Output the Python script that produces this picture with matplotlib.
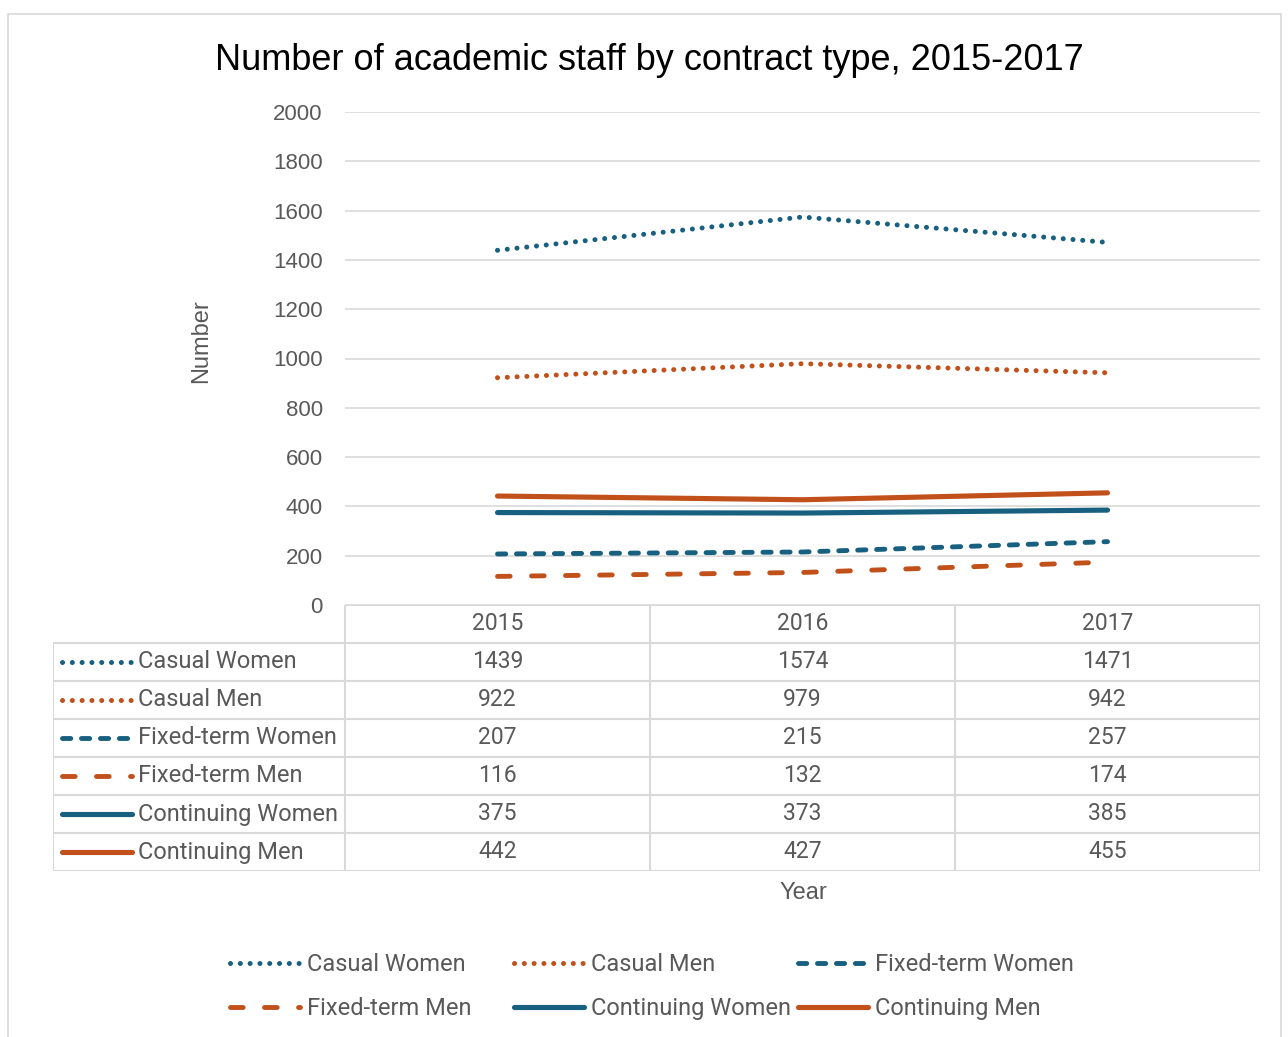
import matplotlib
matplotlib.use("Agg")
import matplotlib.pyplot as plt
from matplotlib.patches import Rectangle

# academic staff counts by contract type
years = ["2015", "2016", "2017"]
series_names = ["Casual Women", "Casual Men", "Fixed-term Women",
                "Fixed-term Men", "Continuing Women", "Continuing Men"]
casual_women = [1439, 1574, 1471]
casual_men = [922, 979, 942]
fixed_women = [207, 215, 257]
fixed_men = [116, 132, 174]
cont_women = [375, 373, 385]
cont_men = [442, 427, 455]
series_values = [casual_women, casual_men, fixed_women,
                 fixed_men, cont_women, cont_men]
y_ticks = [0, 200, 400, 600, 800, 1000, 1200, 1400, 1600, 1800, 2000]

BLUE = "#17607F"
ORANGE = "#C1501A"
GRID = "#D9D9D9"
TXT = "#595959"

styles = [
    dict(color=BLUE, lw=3.6, dashes=(0.01, 1.95), dash_capstyle="round"),
    dict(color=ORANGE, lw=3.6, dashes=(0.01, 1.95), dash_capstyle="round"),
    dict(color=BLUE, lw=3.5, dashes=(1.7, 2.2), dash_capstyle="round"),
    dict(color=ORANGE, lw=3.5, dashes=(2.6, 4.4), dash_capstyle="round"),
    dict(color=BLUE, lw=3.7, solid_capstyle="round"),
    dict(color=ORANGE, lw=3.7, solid_capstyle="round"),
]

W, H = 1288, 1037
fig = plt.figure(figsize=(W / 100, H / 100), dpi=100)
fig.patch.set_facecolor("white")

# chart border
fig.add_artist(Rectangle((8 / W, -0.01), (1281 - 8) / W, (H - 14) / H + 0.01,
                         transform=fig.transFigure, fill=False,
                         edgecolor=GRID, lw=1.2))

def fx(px):
    return px / W

def fy(py):
    return (H - py) / H

x = list(range(len(years)))

ax = fig.add_axes([fx(345), fy(605), fx(1260) - fx(345), fy(112) - fy(605)])
ax.set_xlim(-0.5, 2.5)
ax.set_ylim(0, 2000)
ax.set_yticks(y_ticks)
ax.set_yticklabels([str(t) for t in y_ticks], fontsize=16,
                   color=TXT, family="Liberation Sans")
ax.tick_params(axis="y", length=0, pad=16)
ax.set_xticks([])
for s in ax.spines.values():
    s.set_visible(False)
ax.grid(axis="y", color=GRID, lw=1.2)
ax.set_axisbelow(True)

handles = []
for name, vals, st in zip(series_names, series_values, styles):
    ln, = ax.plot(x, vals, label=name, **st)
    handles.append(ln)

ax.set_ylabel("Number", fontsize=17, color=TXT, family="Liberation Sans")
ax.yaxis.set_label_coords(-0.145, 0.535)

fig.text(fx(649), fy(60), "Number of academic staff by contract type, 2015-2017",
         ha="center", va="center", fontsize=26, family="Liberation Sans",
         color="black")

# data table under the plot
lab_w = 292 / 305.3
tab = fig.add_axes([fx(53), fy(871), fx(1260) - fx(53), fy(605) - fy(871)])
tab.set_xlim(-0.5 - lab_w, 2.5)
tab.set_ylim(7, 0)
tab.axis("off")
left = -0.5 - lab_w
tab.hlines(0, -0.5, 2.5, color=GRID, lw=1.5)
tab.hlines(range(1, 8), left, 2.5, color=GRID, lw=1.5)
tab.vlines(left, 1, 7, color=GRID, lw=1.5)
tab.vlines([-0.5, 0.5, 1.5, 2.5], 0, 7, color=GRID, lw=1.5)
for i, yr in enumerate(years):
    tab.text(i, 0.5, yr, ha="center", va="center", fontsize=16.5,
             color=TXT, family="Roboto")
px_unit = 1 / 305.3
for r, (name, vals, st) in enumerate(zip(series_names, series_values, styles)):
    yc = r + 1.5
    k0 = left + 9 * px_unit
    tab.plot([k0, k0 + 70 * px_unit], [yc, yc], **st)
    tab.text(k0 + 76 * px_unit, yc, name, ha="left", va="center",
             fontsize=17, color=TXT, family="Roboto")
    for i, v in enumerate(vals):
        tab.text(i, yc, str(v), ha="center", va="center", fontsize=16.5,
                 color=TXT, family="Roboto")

fig.text(fx(803), fy(893), "Year", ha="center", va="center", fontsize=17,
         color=TXT, family="Liberation Sans")

# bottom legend, three fixed-width columns filled row by row
for col, x0 in enumerate([230, 514, 798]):
    idx = [col, col + 3]
    fig.legend([handles[i] for i in idx], [series_names[i] for i in idx],
               loc="upper left", bbox_to_anchor=(fx(x0), fy(953)),
               frameon=False, borderpad=0, borderaxespad=0,
               handlelength=2.95, handletextpad=0.3, labelspacing=0.9,
               prop=dict(family="Roboto", size=17), labelcolor=TXT)

fig.savefig("out.png", dpi=100)
